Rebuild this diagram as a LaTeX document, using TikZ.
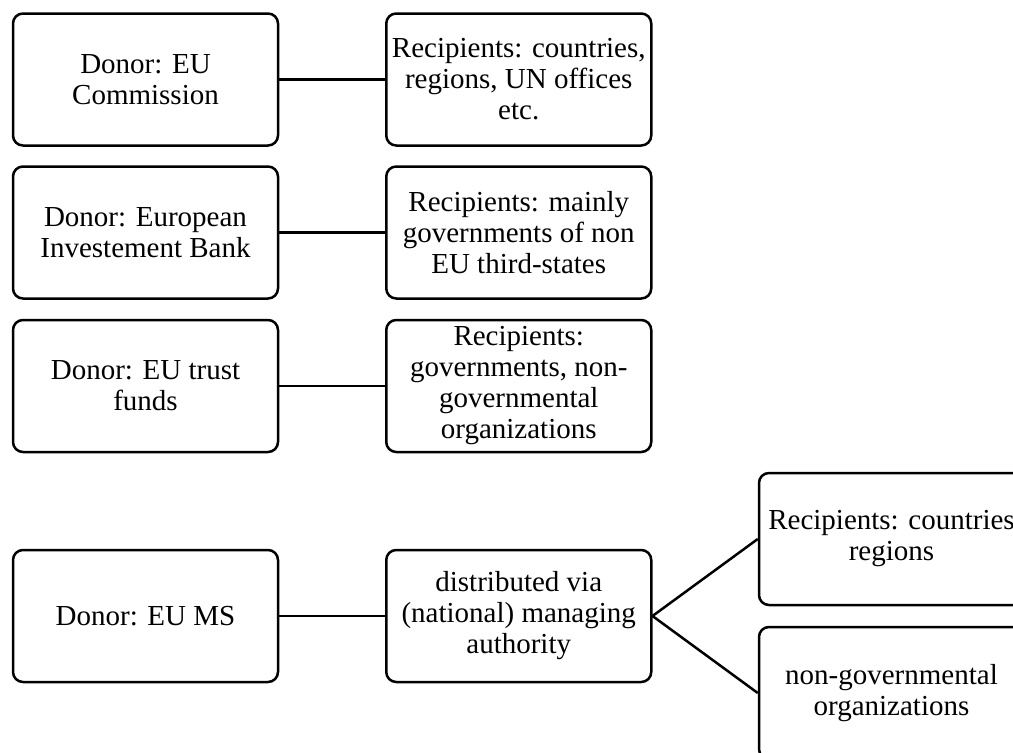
\documentclass[tikz,border=0pt]{standalone}
\usepackage{fontspec}
\setmainfont{Liberation Serif}
\begin{document}
\begin{tikzpicture}[x=1pt,y=-1pt,
  box/.style={draw=black, line width=2.5pt, rounded corners=10pt, minimum width=265pt, minimum height=132pt, align=center, inner sep=2pt, font=\fontsize{29}{31}\selectfont},
  link/.style={draw=black, line width=2.5pt}]
\useasboundingbox (0,0) rectangle (1013,753);
\clip (0,0) rectangle (1013,753);
\node[box] (d1) at (145.5,79.5) {Donor: EU\\Commission};
\node[box] (r1) at (518.75,79.5) {Recipients: countries,\\regions, UN offices\\etc.};
\node[box] (d2) at (145.5,232.5) {Donor: European\\Investement Bank};
\node[box] (r2) at (518.75,232.5) {Recipients: mainly\\governments of non\\EU third-states};
\node[box] (d3) at (145.5,386) {Donor: EU trust\\funds};
\node[box] (r3) at (518.75,386) {Recipients:\\governments, non-\\governmental\\organizations};
\node[box] (d4) at (145.5,616) {Donor: EU MS};
\node[box] (m4) at (518.75,616) {distributed via\\(national) managing\\authority};
\node[box] (r4a) at (891.5,539) {Recipients: countries\\regions};
\node[box] (r4b) at (891.5,693) {non-governmental\\organizations};
\draw[link] (d1.east) -- (r1.west);
\draw[link] (d2.east) -- (r2.west);
\draw[link] (d3.east) -- (r3.west);
\draw[link] (d4.east) -- (m4.west);
\draw[link] (m4.east) -- (r4a.west);
\draw[link] (m4.east) -- (r4b.west);
\end{tikzpicture}
\end{document}
